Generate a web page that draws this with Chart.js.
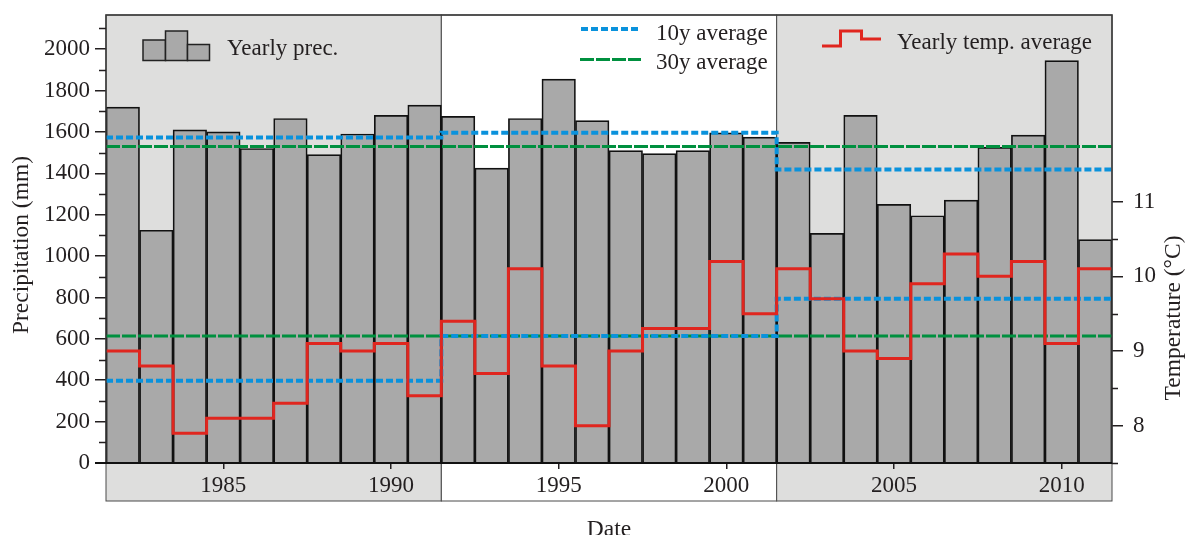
<!DOCTYPE html>
<html>
<head>
<meta charset="utf-8">
<title>Yearly precipitation and temperature 1982–2011</title>
<script src="https://cdn.jsdelivr.net/npm/chart.js@4.4.1/dist/chart.umd.min.js"></script>
<style>
  html, body { margin: 0; padding: 0; background: #fff; }
  #wrap { width: 1186px; height: 535px; }
</style>
</head>
<body>
<div id="wrap"><canvas id="chart" width="1186" height="535"></canvas></div>
<script>
const years = [1982, 1983, 1984, 1985, 1986, 1987, 1988, 1989, 1990, 1991,
               1992, 1993, 1994, 1995, 1996, 1997, 1998, 1999, 2000, 2001,
               2002, 2003, 2004, 2005, 2006, 2007, 2008, 2009, 2010, 2011];
const precipitation = [1720, 1125, 1610, 1600, 1520, 1665, 1490, 1590, 1680, 1730,
                       1675, 1425, 1665, 1855, 1655, 1510, 1495, 1510, 1595, 1575,
                       1550, 1110, 1680, 1250, 1195, 1270, 1525, 1585, 1945, 1080];
const temperature = [9.0, 8.8, 7.9, 8.1, 8.1, 8.3, 9.1, 9.0, 9.1, 8.4,
                     9.4, 8.7, 10.1, 8.8, 8.0, 9.0, 9.3, 9.3, 10.2, 9.5,
                     10.1, 9.7, 9.0, 8.9, 9.9, 10.3, 10.0, 10.2, 9.1, 10.1];

// decade blocks and their averages
const periodStarts = [1982, 1992, 2002];
const prec10y = [1573, 1596, 1418];
const temp10y = [8.6, 9.2, 9.7];
const prec30y = 1530;
const temp30y = 9.2;

const yearTicks = [1985, 1990, 1995, 2000, 2005, 2010];
const precTicks = [0, 200, 400, 600, 800, 1000, 1200, 1400, 1600, 1800, 2000];
const precMinor = [100, 300, 500, 700, 900, 1100, 1300, 1500, 1700, 1900, 2100];
const tempTicks = [8, 9, 10, 11];
const tempMinor = [7.5, 8.5, 9.5, 10.5];

const FONT = '"Liberation Serif", "Times New Roman", serif';
const INK = '#231f20';
const BAR = '#a9a9a9';
const SHADE = '#dededd';
const RED = '#e0261f';
const BLUE = '#0a92dc';
const GREEN = '#00903f';
const BLUE_DASH = [7, 3];
const GREEN_DASH = [14, 2];

const lastYear = years[years.length - 1];

// points on the block edges so a stepped line covers each whole year/decade
function steps(starts, values, end) {
  const pts = starts.map((s, i) => ({ x: s - 0.5, y: values[i] }));
  pts.push({ x: end + 0.5, y: values[values.length - 1] });
  return pts;
}

// fixed box sizes so the plot area sits at 106..1112 x 15..463
function fixWidth(w) {
  return s => { s.width = w; s.paddingTop = 0; s.paddingBottom = 0; };
}

const frame = {
  id: 'frame',
  beforeDraw(chart) {
    const { ctx, chartArea: a, scales: { x } } = chart;
    const bandBottom = a.bottom + 38;
    ctx.save();
    periodStarts.forEach((s, i) => {
      const next = i + 1 < periodStarts.length ? periodStarts[i + 1] : lastYear + 1;
      const x0 = x.getPixelForValue(s - 0.5);
      const x1 = x.getPixelForValue(next - 0.5);
      ctx.fillStyle = i === 1 ? '#ffffff' : SHADE;
      ctx.fillRect(x0, a.top, x1 - x0, bandBottom - a.top);
      ctx.strokeStyle = '#4a4a4a';
      ctx.lineWidth = 1;
      ctx.strokeRect(x0, a.top, x1 - x0, bandBottom - a.top);
    });
    ctx.restore();
  },
  afterDraw(chart) {
    const { ctx, chartArea: a, scales: { y, t } } = chart;
    ctx.save();

    // plot frame and zero line
    ctx.strokeStyle = '#3a3a3a';
    ctx.lineWidth = 1.5;
    ctx.strokeRect(a.left, a.top, a.right - a.left, a.bottom - a.top);
    ctx.strokeStyle = '#111';
    ctx.lineWidth = 2;
    ctx.beginPath();
    ctx.moveTo(a.left - 11, a.bottom);
    ctx.lineTo(a.right, a.bottom);
    ctx.stroke();

    // minor ticks
    ctx.strokeStyle = INK;
    ctx.lineWidth = 1.5;
    ctx.beginPath();
    precMinor.forEach(v => {
      const py = Math.round(y.getPixelForValue(v)) + 0.5;
      ctx.moveTo(a.left - 7, py);
      ctx.lineTo(a.left, py);
    });
    tempMinor.forEach(v => {
      const py = Math.round(t.getPixelForValue(v)) + 0.5;
      ctx.moveTo(a.right, py);
      ctx.lineTo(a.right + 6, py);
    });
    ctx.stroke();

    // legend: yearly precipitation
    ctx.fillStyle = BAR;
    ctx.strokeStyle = '#222';
    ctx.lineWidth = 1.5;
    [[143, 40, 22.5], [165.5, 31, 22], [187.5, 44.5, 22]].forEach(([bx, by, bw]) => {
      ctx.fillRect(bx, by, bw, 60.5 - by);
      ctx.strokeRect(bx, by, bw, 60.5 - by);
    });
    ctx.fillStyle = INK;
    ctx.font = '23px ' + FONT;
    ctx.textAlign = 'left';
    ctx.textBaseline = 'alphabetic';
    ctx.fillText('Yearly prec.', 227, 55);

    // legend: averages
    ctx.lineWidth = 4;
    ctx.setLineDash(BLUE_DASH);
    ctx.strokeStyle = BLUE;
    ctx.beginPath();
    ctx.moveTo(581, 29);
    ctx.lineTo(641, 29);
    ctx.stroke();
    ctx.lineWidth = 3;
    ctx.setLineDash(GREEN_DASH);
    ctx.strokeStyle = GREEN;
    ctx.beginPath();
    ctx.moveTo(580, 59.5);
    ctx.lineTo(641, 59.5);
    ctx.stroke();
    ctx.setLineDash([]);
    ctx.fillText('10y average', 656, 39.5);
    ctx.fillText('30y average', 656, 68.5);

    // legend: yearly temperature
    ctx.strokeStyle = RED;
    ctx.lineWidth = 3;
    ctx.beginPath();
    ctx.moveTo(822, 46);
    ctx.lineTo(840.5, 46);
    ctx.lineTo(840.5, 31);
    ctx.lineTo(861.5, 31);
    ctx.lineTo(861.5, 39);
    ctx.lineTo(881, 39);
    ctx.stroke();
    ctx.fillText('Yearly temp. average', 897, 49);

    // axis titles
    ctx.textAlign = 'center';
    ctx.font = '23.5px ' + FONT;
    ctx.save();
    ctx.translate(28, 245);
    ctx.rotate(-Math.PI / 2);
    ctx.fillText('Precipitation (mm)', 0, 0);
    ctx.restore();
    ctx.save();
    ctx.translate(1180, 318);
    ctx.rotate(-Math.PI / 2);
    ctx.fillText('Temperature (°C)', 0, 0);
    ctx.restore();
    ctx.fillText('Date', (a.left + a.right) / 2, 536);

    ctx.restore();
  }
};

const tickFont = { family: FONT, size: 23 };
const tickGrid = { drawOnChartArea: false, offset: false, color: INK, lineWidth: 1.5 };

new Chart(document.getElementById('chart'), {
  data: {
    labels: years,
    datasets: [
      {
        type: 'line',
        label: 'Yearly temp. average',
        data: steps(years, temperature, lastYear),
        yAxisID: 't',
        stepped: true,
        borderColor: RED,
        borderWidth: 3,
        pointRadius: 0,
        order: 0
      },
      {
        type: 'line',
        label: '10y average',
        data: steps(periodStarts, prec10y, lastYear),
        yAxisID: 'y',
        stepped: true,
        borderColor: BLUE,
        borderWidth: 4,
        borderDash: BLUE_DASH,
        pointRadius: 0,
        order: 1
      },
      {
        type: 'line',
        label: '10y average (temp.)',
        data: steps(periodStarts, temp10y, lastYear),
        yAxisID: 't',
        stepped: true,
        borderColor: BLUE,
        borderWidth: 4,
        borderDash: BLUE_DASH,
        pointRadius: 0,
        order: 1
      },
      {
        type: 'line',
        label: '30y average',
        data: steps([years[0]], [prec30y], lastYear),
        yAxisID: 'y',
        borderColor: GREEN,
        borderWidth: 3,
        borderDash: GREEN_DASH,
        pointRadius: 0,
        order: 2
      },
      {
        type: 'line',
        label: '30y average (temp.)',
        data: steps([years[0]], [temp30y], lastYear),
        yAxisID: 't',
        borderColor: GREEN,
        borderWidth: 3,
        borderDash: GREEN_DASH,
        pointRadius: 0,
        order: 2
      },
      {
        type: 'bar',
        label: 'Yearly prec.',
        data: precipitation,
        yAxisID: 'y',
        backgroundColor: BAR,
        borderColor: '#111',
        borderWidth: 1.7,
        barPercentage: 1,
        categoryPercentage: 1,
        order: 3
      }
    ]
  },
  options: {
    responsive: false,
    animation: false,
    layout: { padding: { top: 15, left: 0, right: 0, bottom: 0 } },
    plugins: { legend: { display: false }, tooltip: { enabled: false } },
    scales: {
      x: {
        type: 'linear',
        position: 'bottom',
        offset: false,
        min: years[0] - 0.5,
        max: lastYear + 0.5,
        afterFit: s => { s.height = 72; s.paddingLeft = 0; s.paddingRight = 0; },
        afterBuildTicks: s => { s.ticks = yearTicks.map(v => ({ value: v })); },
        grid: { ...tickGrid, tickLength: 6 },
        border: { display: false },
        ticks: { font: tickFont, color: INK, padding: 3, maxRotation: 0, autoSkip: false,
                 callback: v => String(v) }
      },
      y: {
        type: 'linear',
        position: 'left',
        min: 0,
        max: 2165,
        afterFit: fixWidth(106),
        afterBuildTicks: s => { s.ticks = precTicks.map(v => ({ value: v })); },
        grid: { ...tickGrid, tickLength: 11 },
        border: { display: false },
        ticks: { font: tickFont, color: INK, padding: 5, callback: v => String(v) }
      },
      t: {
        type: 'linear',
        position: 'right',
        min: 7.5,
        max: 13.5,
        afterFit: fixWidth(74),
        afterBuildTicks: s => { s.ticks = tempTicks.map(v => ({ value: v })); },
        grid: { ...tickGrid, tickLength: 11 },
        border: { display: false },
        ticks: { font: tickFont, color: INK, padding: 10, callback: v => String(v) }
      }
    }
  },
  plugins: [frame]
});
</script>
</body>
</html>
